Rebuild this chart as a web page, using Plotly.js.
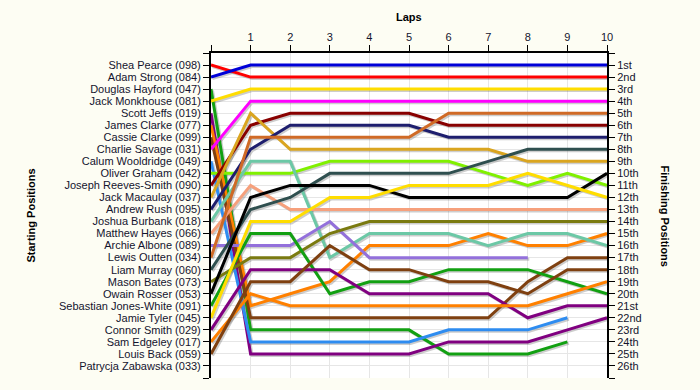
<!DOCTYPE html>
<html>
<head>
<meta charset="utf-8">
<script src="https://cdn.plot.ly/plotly-3.0.1.min.js"></script>
<style>html,body{margin:0;padding:0;background:#FDFDF3;}</style>
</head>
<body>
<div id="chart" style="width:700px;height:390px;"></div>
<script>
// ---- data ----
const laps = [0, 1, 2, 3, 4, 5, 6, 7, 8, 9, 10];
const lapLabels = ['', '1', '2', '3', '4', '5', '6', '7', '8', '9', '10'];
const drivers = [
  'Shea Pearce (098)', 'Adam Strong (084)', 'Douglas Hayford (047)', 'Jack Monkhouse (081)',
  'Scott Jeffs (019)', 'James Clarke (077)', 'Cassie Clarke (099)', 'Charlie Savage (031)',
  'Calum Wooldridge (049)', 'Oliver Graham (042)', 'Joseph Reeves-Smith (090)', 'Jack Macaulay (037)',
  'Andrew Rush (095)', 'Joshua Burbank (018)', 'Matthew Hayes (066)', 'Archie Albone (089)',
  'Lewis Outten (034)', 'Liam Murray (060)', 'Mason Bates (073)', 'Owain Rosser (053)',
  'Sebastian Jones-White (091)', 'Jamie Tyler (045)', 'Connor Smith (029)', 'Sam Edgeley (017)',
  'Louis Back (059)', 'Patrycja Zabawska (033)'
];
const finishLabels = ['1st','2nd','3rd','4th','5th','6th','7th','8th','9th','10th','11th','12th','13th',
  '14th','15th','16th','17th','18th','19th','20th','21st','22nd','23rd','24th','25th','26th'];

// positions per lap (lap 0 = starting position)
const posPearce     = [1, 2, 2, 2, 2, 2, 2, 2, 2, 2, 2];
const posStrong     = [2, 1, 1, 1, 1, 1, 1, 1, 1, 1, 1];
const posHayford    = [3, 23, 23, 23, 23, 23, 25, 25, 25, 24];
const posMonkhouse  = [4, 3, 3, 3, 3, 3, 3, 3, 3, 3, 3];
const posJeffs      = [5, 25, 25, 25, 25, 25, 24, 24, 24, 23, 22];
const posJClarke    = [6, 21, 20, 19, 16, 16, 16, 15, 16, 16, 15];
const posCClarke    = [7, 22, 22, 22, 22, 22, 22, 22, 19, 17, 17];
const posSavage     = [8, 4, 4, 4, 4, 4, 4, 4, 4, 4, 4];
const posWooldridge = [9, 24, 24, 24, 24, 24, 23, 23, 23, 22];
const posGraham     = [10, 10, 10, 9, 9, 9, 9, 10, 11, 10, 11];
const posReeves     = [11, 6, 5, 5, 5, 5, 6, 6, 6, 6, 6];
const posMacaulay   = [12, 5, 8, 8, 8, 8, 8, 8, 9, 9, 9];
const posRush       = [13, 8, 6, 6, 6, 6, 7, 7, 7, 7, 7];
const posBurbank    = [14, 9, 9, 17, 15, 15, 15, 16, 15, 15, 16];
const posHayes      = [15, 11, 13, 13, 13, 13, 13, 13, 13, 13, 13];
const posAlbone     = [16, 16, 16, 14, 17, 17, 17, 17, 17];
const posOutten     = [17, 7, 7, 7, 7, 7, 5, 5, 5, 5, 5];
const posMurray     = [18, 13, 12, 10, 10, 10, 10, 9, 8, 8, 8];
const posBates      = [19, 17, 17, 15, 14, 14, 14, 14, 14, 14, 14];
const posRosser     = [20, 12, 11, 11, 11, 12, 12, 12, 12, 12, 10];
const posJonesWhite = [21, 15, 15, 20, 19, 19, 18, 18, 18, 19, 20];
const posTyler      = [22, 14, 14, 12, 12, 11, 11, 11, 10, 11, 12];
const posSmith      = [23, 18, 18, 18, 20, 20, 20, 20, 22, 21, 21];
const posEdgeley    = [24, 20, 21, 21, 21, 21, 21, 21, 21, 20, 19];
const posBack       = [25, 19, 19, 16, 18, 18, 19, 19, 20, 18, 18];
const posZabawska   = [26];

const allPositions = [posPearce, posStrong, posHayford, posMonkhouse, posJeffs, posJClarke, posCClarke,
  posSavage, posWooldridge, posGraham, posReeves, posMacaulay, posRush, posBurbank, posHayes, posAlbone,
  posOutten, posMurray, posBates, posRosser, posJonesWhite, posTyler, posSmith, posEdgeley, posBack, posZabawska];

// ---- style ----
const colors = ['#FF0000', '#0000D8', '#12A012', '#FFDD00', '#800080', '#FF8000', '#7F4010', '#FF00FF',
  '#2E8CF0', '#80F000', '#880000', '#DAA520', '#1E1E6E', '#6CC8A6', '#F6A07C', '#9370DB',
  '#D06A26', '#2F4F4F', '#7A7A10', '#000000', '#12A012', '#FFDD00', '#800080', '#FF8000', '#7F4010', '#FF00FF'];

const tickFont = {family: 'Liberation Sans, Arial, sans-serif', size: 11, color: '#14142e'};
const titleFont = {family: 'Liberation Sans, Arial, sans-serif', size: 11, color: '#000000'};

const pxPerLap = 396 / 10;
const pxPerPos = 325 / 27;
const dx = 1.5 / pxPerLap, dy = 1.5 / pxPerPos;

const traces = [];
// shadows (base axes, shifted)
allPositions.forEach((p, i) => {
  traces.push({
    x: laps.slice(0, p.length), y: p, mode: 'lines', type: 'scatter',
    xaxis: 'x', yaxis: 'y', hoverinfo: 'skip', showlegend: false,
    line: {color: 'rgba(90,90,90,0.3)', width: 3}
  });
});
// main lines
allPositions.forEach((p, i) => {
  traces.push({
    x: laps.slice(0, p.length), y: p, mode: 'lines', type: 'scatter', name: drivers[i],
    xaxis: 'x2', yaxis: 'y2', showlegend: false,
    line: {color: colors[i], width: 3}
  });
});
// dummy for right axis
traces.push({x: [null], y: [null], xaxis: 'x2', yaxis: 'y3', mode: 'lines', showlegend: false, hoverinfo: 'skip'});

const posTicks = [];
for (let k = 0; k <= 27; k++) posTicks.push(k);
const leftText = posTicks.map(k => (k >= 1 && k <= drivers.length) ? drivers[k - 1] : '');
const rightText = posTicks.map(k => (k >= 1 && k <= finishLabels.length) ? finishLabels[k - 1] : '');

const layout = {
  width: 700, height: 390,
  paper_bgcolor: '#FDFDF3', plot_bgcolor: '#FFFFFF',
  margin: {l: 211, r: 93, t: 53, b: 12, pad: 0},
  showlegend: false,
  xaxis: {range: [-dx, 10 - dx], visible: false, fixedrange: true},
  yaxis: {range: [27 - dy, -dy], visible: false, fixedrange: true},
  xaxis2: {
    overlaying: 'x', side: 'top', range: [0, 10], tickmode: 'array', tickvals: laps, ticktext: lapLabels,
    ticks: 'outside', ticklen: 6, tickwidth: 1, tickcolor: '#000', showline: true, linecolor: '#000', linewidth: 2,
    showgrid: true, gridcolor: '#E6E6E6', gridwidth: 1, zeroline: false, tickfont: tickFont, fixedrange: true
  },
  yaxis2: {
    overlaying: 'y', side: 'left', range: [27, 0], tickmode: 'array', tickvals: posTicks, ticktext: leftText,
    ticks: 'outside', ticklen: 6, tickwidth: 1, tickcolor: '#000', showline: true, linecolor: '#000', linewidth: 2,
    showgrid: true, gridcolor: '#E6E6E6', gridwidth: 1, zeroline: false, tickfont: tickFont, fixedrange: true
  },
  yaxis3: {
    overlaying: 'y', side: 'right', range: [27, 0], tickmode: 'array', tickvals: posTicks, ticktext: rightText,
    ticks: 'outside', ticklen: 6, tickwidth: 1, tickcolor: '#000', showline: true, linecolor: '#000', linewidth: 2,
    showgrid: false, zeroline: false, tickfont: tickFont, fixedrange: true
  },
  annotations: [
    {text: '<b>Laps</b>', xref: 'paper', yref: 'paper', x: 0.5, y: (378 - 17) / 325, showarrow: false,
     xanchor: 'center', yanchor: 'middle', font: titleFont},
    {text: '<b>Starting Positions</b>', xref: 'paper', yref: 'paper', x: (30 - 211) / 396, y: 0.5, showarrow: false,
     textangle: -90, xanchor: 'center', yanchor: 'middle', font: titleFont},
    {text: '<b>Finishing Positions</b>', xref: 'paper', yref: 'paper', x: (665 - 211) / 396, y: 0.5, showarrow: false,
     textangle: 90, xanchor: 'center', yanchor: 'middle', font: titleFont}
  ]
};

Plotly.newPlot('chart', traces, layout, {displayModeBar: false, staticPlot: true});
</script>
</body>
</html>
